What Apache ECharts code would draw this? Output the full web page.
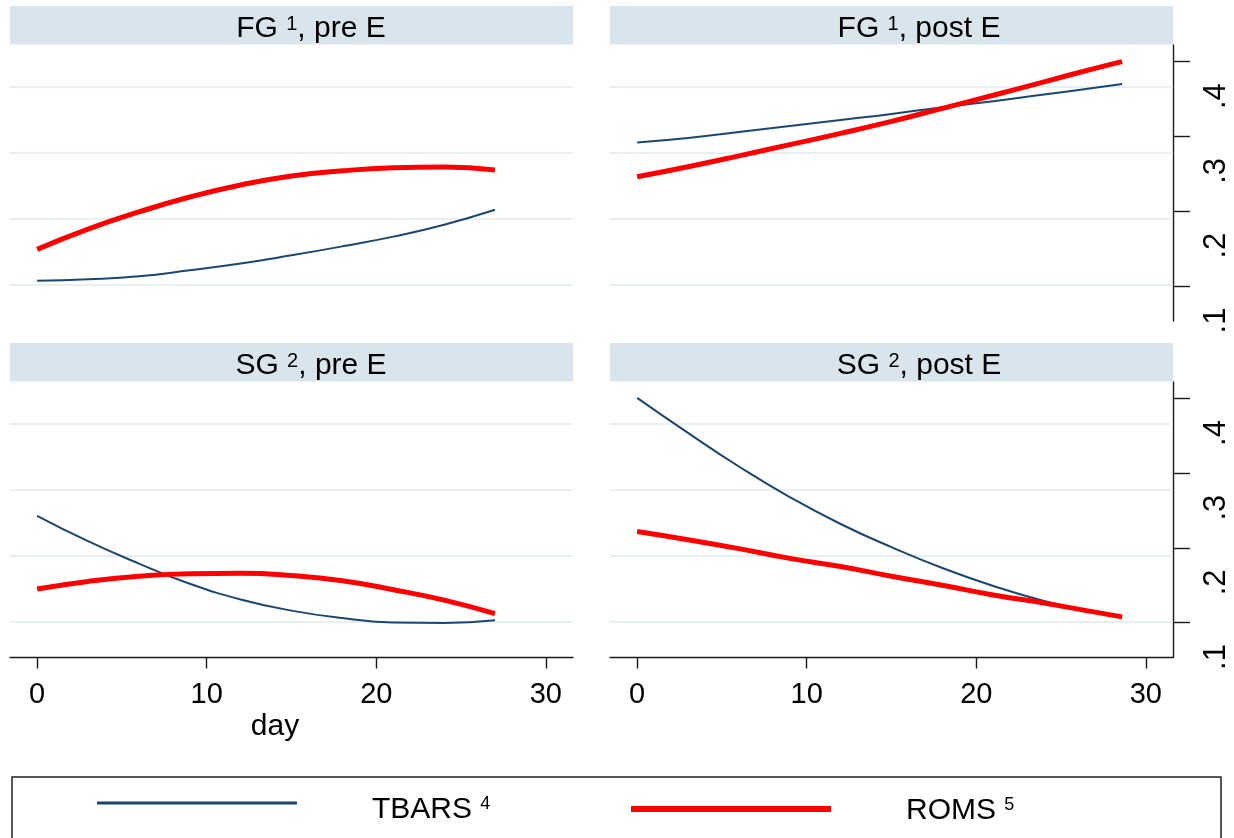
<!DOCTYPE html>
<html>
<head>
<meta charset="utf-8">
<script src="https://cdn.jsdelivr.net/npm/echarts@6/dist/echarts.min.js"></script>
<style>
html,body{margin:0;padding:0;background:#fff;}
#chart{width:1234px;height:838px;}
</style>
</head>
<body>
<div id="chart"></div>
<script>
// ---------- data ----------
const daysPre  = [0, 3, 6, 9, 12, 15, 18, 21, 24, 27];
const daysPost = [0, 3, 6, 9, 12, 15, 18, 21, 24, 27, 28.6];

const tbarsFgPre  = [0.107, 0.109, 0.113, 0.121, 0.130, 0.141, 0.153, 0.166, 0.182, 0.202];
const romsFgPre   = [0.149, 0.176, 0.199, 0.219, 0.235, 0.247, 0.254, 0.258, 0.259, 0.255];
const tbarsFgPost = [0.292, 0.298, 0.306, 0.314, 0.322, 0.330, 0.339, 0.347, 0.356, 0.365, 0.370];
const romsFgPost  = [0.246, 0.2595, 0.274, 0.289, 0.304, 0.320, 0.3375, 0.355, 0.373, 0.391, 0.400];
const tbarsSgPre  = [0.243, 0.209, 0.179, 0.152, 0.131, 0.116, 0.106, 0.100, 0.0995, 0.103];
const romsSgPre   = [0.145, 0.155, 0.162, 0.1655, 0.166, 0.163, 0.156, 0.144, 0.130, 0.112];
const tbarsSgPost = [0.401, 0.354, 0.309, 0.268, 0.232, 0.201, 0.173, 0.149, 0.129, 0.114, 0.108];
const romsSgPost  = [0.222, 0.211, 0.199, 0.186, 0.175, 0.162, 0.150, 0.137, 0.126, 0.114, 0.1076];

const xTicks = [0, 10, 20, 30];
const xTickLabels = ['0', '10', '20', '30'];
const yTicks = [0.1, 0.2, 0.3, 0.4];
const yTickLabels = ['.1', '.2', '.3', '.4'];
const gridValues = [0.1, 0.2, 0.3, 0.4];

const panelTitles = [
  ['FG ', '1', ', pre E'],
  ['FG ', '1', ', post E'],
  ['SG ', '2', ', pre E'],
  ['SG ', '2', ', post E']
];
const seriesNames = ['TBARS', 'ROMS'];
const seriesSups = ['4', '5'];
const xAxisTitle = 'day';

// ---------- layout / style ----------
const FONT = "'Liberation Sans', Arial, Helvetica, sans-serif";
const NAVY = '#1a476f';
const RED = '#ff0000';
const STRIP = '#d9e5ec';
const GRIDC = '#e9f0f3';

const panels = [
  { left: 10,  top: 45,  height: 276,   strip: 6,   days: daysPre,  tb: tbarsFgPre,  ro: romsFgPre,  right: false, bottom: false, tx: 311 },
  { left: 610, top: 45,  height: 276,   strip: 6,   days: daysPost, tb: tbarsFgPost, ro: romsFgPost, right: true,  bottom: false, tx: 919 },
  { left: 10,  top: 382, height: 275.5, strip: 343, days: daysPre,  tb: tbarsSgPre,  ro: romsSgPre,  right: false, bottom: true,  tx: 311 },
  { left: 610, top: 382, height: 275.5, strip: 343, days: daysPost, tb: tbarsSgPost, ro: romsSgPost, right: true,  bottom: true,  tx: 919 }
];
const PW = 563;

const grid = [], xAxis = [], yAxis = [], series = [], graphic = [];
const axisLineStyle = { color: '#1a1a1a', width: 1.4 };

panels.forEach((p, i) => {
  grid.push({ left: p.left, top: p.top, width: PW, height: p.height, containLabel: false });
  xAxis.push({
    type: 'value', gridIndex: i, min: -1.6, max: 31.6,
    show: p.bottom,
    axisLine: { show: true, onZero: false, lineStyle: axisLineStyle },
    axisTick: { show: true, customValues: xTicks, length: 11, lineStyle: axisLineStyle },
    axisLabel: {
      show: true, customValues: xTicks, margin: 23, fontSize: 29, color: '#000', fontFamily: FONT,
      formatter: v => xTickLabels[xTicks.indexOf(Math.round(v))]
    },
    splitLine: { show: false }
  });
  // main value axis (data)
  yAxis.push({
    type: 'value', gridIndex: i, min: 0.0532, max: 0.4222, position: 'right',
    show: p.right,
    axisLine: { show: true, onZero: false, lineStyle: axisLineStyle },
    axisTick: { show: true, customValues: yTicks, length: 17, lineStyle: axisLineStyle },
    axisLabel: { show: false },
    splitLine: { show: false }
  });
  // grid-line axis (hidden)
  yAxis.push({
    type: 'value', gridIndex: i, min: 0.0456, max: 0.4625, show: false,
    splitLine: { show: false }
  });
  // label axis
  yAxis.push({
    type: 'value', gridIndex: i, min: 0.0993, max: 0.4683, position: 'right',
    show: p.right,
    axisLine: { show: false }, axisTick: { show: false }, splitLine: { show: false },
    axisLabel: {
      show: true, customValues: yTicks, rotate: 90, margin: 28, fontSize: 31, color: '#000', fontFamily: FONT,
      formatter: v => yTickLabels[Math.round(v * 10) - 1]
    }
  });

  series.push({
    type: 'line', xAxisIndex: i, yAxisIndex: 3 * i + 1, data: [], silent: true, z: 1,
    markLine: {
      silent: true, z: 1, symbol: ['none', 'none'], label: { show: false }, animation: false,
      lineStyle: { color: GRIDC, width: 2, type: 'solid' },
      emphasis: { disabled: true },
      data: gridValues.map(v => ({ yAxis: v }))
    }
  });
  series.push({
    name: seriesNames[0], type: 'line', xAxisIndex: i, yAxisIndex: 3 * i,
    data: p.days.map((d, k) => [d, p.tb[k]]),
    smooth: true, showSymbol: false, symbol: 'none', z: 3,
    lineStyle: { color: NAVY, width: 2 }, itemStyle: { color: NAVY }
  });
  series.push({
    name: seriesNames[1], type: 'line', xAxisIndex: i, yAxisIndex: 3 * i,
    data: p.days.map((d, k) => [d, p.ro[k]]),
    smooth: true, showSymbol: false, symbol: 'none', z: 4,
    lineStyle: { color: RED, width: 5 }, itemStyle: { color: RED }
  });

  // strip header
  graphic.push({
    type: 'rect', shape: { x: p.left, y: p.strip, width: PW, height: 38.5 },
    style: { fill: STRIP }, silent: true, z: 0
  });
  const t = panelTitles[i];
  graphic.push({
    type: 'text', silent: true, z: 10,
    style: {
      x: p.tx, y: p.strip + 23, align: 'center', verticalAlign: 'middle',
      text: '{m|' + t[0] + '}{s|' + t[1] + '}{m|' + t[2] + '}',
      fill: '#000',
      rich: {
        m: { fontSize: 30, fontFamily: FONT, fill: '#000' },
        s: { fontSize: 20, fontFamily: FONT, fill: '#000', verticalAlign: 'top' }
      }
    }
  });
});

// x axis title
graphic.push({
  type: 'text', silent: true, z: 10,
  style: { x: 275, y: 727, align: 'center', verticalAlign: 'middle', text: xAxisTitle, fill: '#000', font: '30px ' + FONT }
});
// legend box
graphic.push({
  type: 'rect', silent: true, z: 0,
  shape: { x: 12, y: 777, width: 1209, height: 100 },
  style: { fill: 'none', stroke: '#222', lineWidth: 1.5 }
});

function legendFor(idx, left, top, iconH, padTop) {
  return {
    left: left, top: top, orient: 'horizontal', itemWidth: 200, itemHeight: iconH,
    selectedMode: false, icon: 'rect', data: [seriesNames[idx]],
    formatter: name => name + ' {s|' + seriesSups[seriesNames.indexOf(name)] + '}',
    textStyle: {
      fontSize: 30, fontFamily: FONT, color: '#000', padding: [padTop, 0, 0, 70],
      rich: { s: { fontSize: 18, fontFamily: FONT, color: '#000', verticalAlign: 'top' } }
    }
  };
}
const legend = [
  legendFor(0, 92, 790, 3, 14),
  legendFor(1, 626, 791, 6, 4)
];

const chart = echarts.init(document.getElementById('chart'), null, { renderer: 'canvas' });
chart.setOption({
  backgroundColor: '#fff',
  animation: false,
  grid, xAxis, yAxis, series, graphic, legend
});
</script>
</body>
</html>
